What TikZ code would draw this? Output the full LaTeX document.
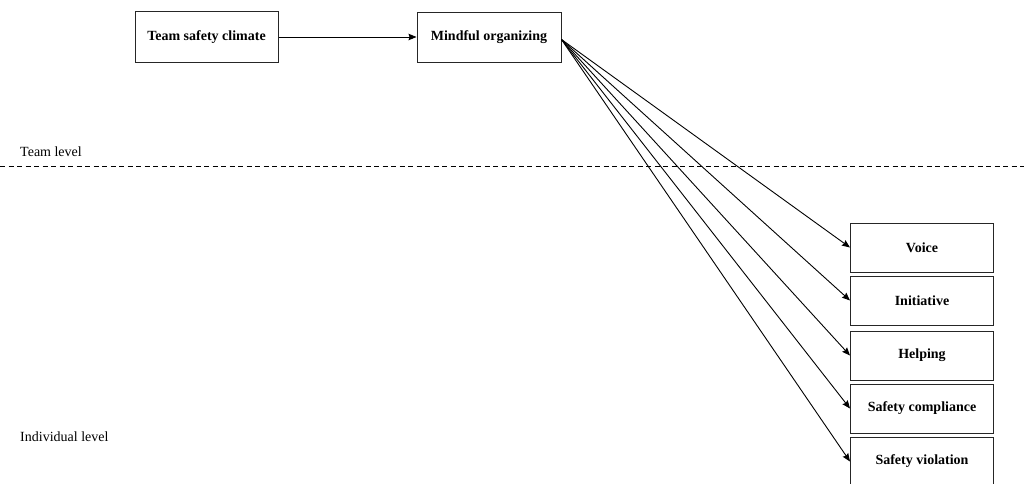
\documentclass[tikz,border=0pt]{standalone}
\usepackage{fontspec}
\setmainfont{Liberation Serif}
\usetikzlibrary{arrows.meta}
\begin{document}
\begin{tikzpicture}[x=1pt,y=-1pt,
  box/.style={draw=black!85,line width=1pt,minimum width=143pt,minimum height=49pt,inner sep=0pt,font=\fontsize{14}{16}\selectfont\bfseries},
  conn/.style={line width=0.9pt,-{Stealth[length=8pt,width=6.5pt,inset=1pt]}},
  lvl/.style={anchor=west,inner sep=0pt,font=\fontsize{14}{16}\selectfont}]
\useasboundingbox (0,0) rectangle (1024,483);
\node[box,minimum height=51pt] (tsc) at (206.5,37) {Team safety climate};
\node[box,minimum width=144pt,minimum height=50pt] (mo) at (489,37.5) {Mindful organizing};
\node[box] (voice) at (922,247.5) {Voice};
\node[box] (init) at (922,300.5) {Initiative};
\node[box] (help) at (922,355.5) {Helping};
\node[box] (comp) at (922,408.5) {Safety compliance};
\node[box] (viol) at (922,461.5) {Safety violation};
\draw[conn] (tsc.east) -- (tsc.east -| mo.west);
\coordinate (src) at ([yshift=-2pt]mo.east);
\foreach \t in {voice,init,help,comp,viol}{\draw[conn] (src) -- (\t.west);}
\coordinate (dl) at (0,166);
\coordinate (dr) at (1024,166);
\draw[dashed,line width=0.8pt,dash pattern=on 5pt off 3.5pt] (dl) -- (dr);
\node[lvl] (team) at (20,152) {Team level};
\node[lvl] (ind) at (20,437) {Individual level};
\end{tikzpicture}
\end{document}
